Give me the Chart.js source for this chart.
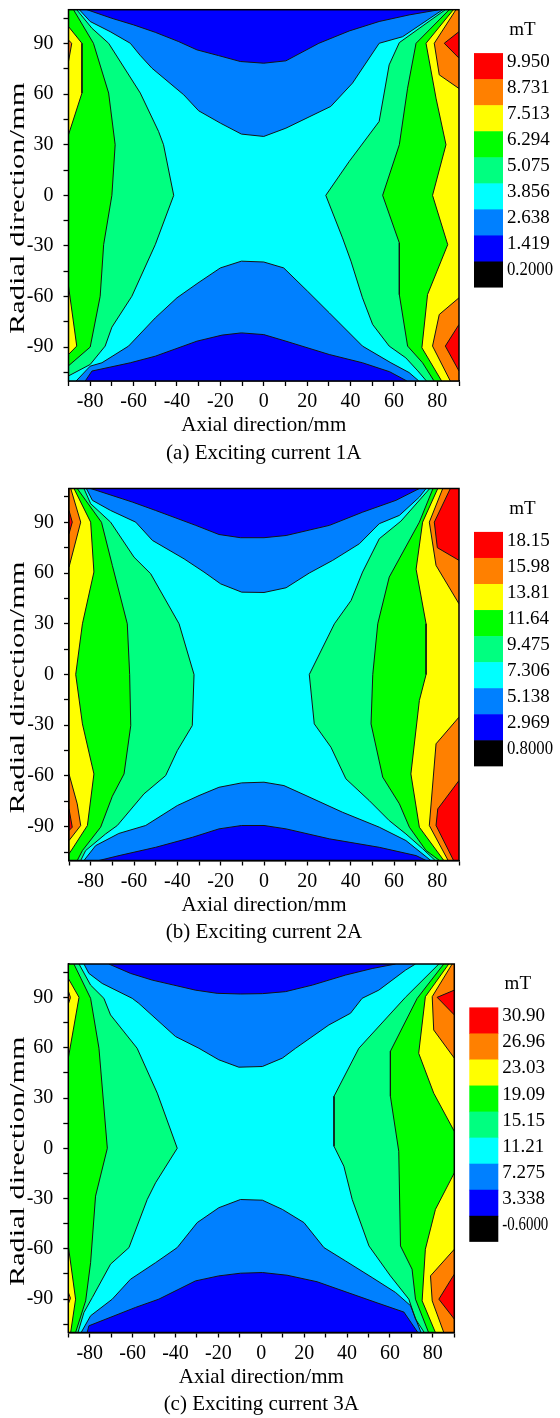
<!DOCTYPE html>
<html>
<head>
<meta charset="utf-8">
<script src="https://cdn.jsdelivr.net/npm/chart.js@4.4.0/dist/chart.umd.min.js"></script>
<style>
html,body{margin:0;padding:0;background:#fff;}
#wrap{position:relative;width:560px;height:1418px;overflow:hidden;}
canvas{position:absolute;left:0;}
</style>
</head>
<body>
<div id="wrap">
<canvas id="pa" width="560" height="476" style="top:0px"></canvas>
<canvas id="pb" width="560" height="476" style="top:476px"></canvas>
<canvas id="pc" width="560" height="466" style="top:952px"></canvas>
</div>
<script>
// ---------------- axis ticks / labels ----------------
const xRange = [-90, 90];
const yRange = [-110, 110];
const xTicks = [-90,-80,-70,-60,-50,-40,-30,-20,-10,0,10,20,30,40,50,60,70,80,90];
const xTickLabels = [-80,-60,-40,-20,0,20,40,60,80];
const yTicks = [-105,-90,-75,-60,-45,-30,-15,0,15,30,45,60,75,90,105];
const yTickLabels = [-90,-60,-30,0,30,60,90];
const xTitle = 'Axial direction/mm';
const yTitle = 'Radial direction/mm';
const unitLabel = 'mT';

// ---------------- colour-bar levels ----------------
const levelsA = ['9.950','8.731','7.513','6.294','5.075','3.856','2.638','1.419','0.2000'];
const levelsB = ['18.15','15.98','13.81','11.64','9.475','7.306','5.138','2.969','0.8000'];
const levelsC = ['30.90','26.96','23.03','19.09','15.15','11.21','7.275','3.338','-0.6000'];

// ---------------- contour lines, panel (a) [x mm, y mm] ----------------
const aTopLightblue = [[-85,110],[-80,103],[-70.8,97],[-61.5,90.1],[-57,83],[-51.5,75.3],[-36.9,59.6],[-30,50.1],[-20,42.8],[-10.3,36.3],[0,34.9],[10.2,39.8],[30.9,52.7],[40.9,66.5],[53.2,90.1],[64,94],[82.5,110]];
const aTopBlue = [[-81.5,110],[-70,104.9],[-60,101],[-50,96.6],[-39.2,91.1],[-30.8,86.2],[-20.8,82.8],[-10.8,79.3],[0,78.3],[10.2,79.7],[25.4,90.1],[39.4,97.4],[53.2,103],[67,106.9],[80.9,110]];
const aBotLightblue = [[-86.5,-110],[-80,-101.2],[-74.6,-99.2],[-62.3,-89.3],[-50,-72.6],[-40,-60.7],[-30.3,-51.9],[-20,-43],[-10.3,-39],[0,-39.5],[9.2,-43],[20.2,-56.8],[30.2,-69.6],[45.5,-89.3],[58.6,-99.2],[67,-105],[71.5,-110]];
const aBotBlue = [[-82.3,-110],[-79.2,-104.1],[-61.5,-99.2],[-50,-95.3],[-30.8,-86.4],[-19.2,-82.8],[-10.3,-81.5],[0,-82.5],[10.2,-86.4],[30.2,-94.3],[45.5,-99.2],[58,-104.5],[66,-110]];
const aLeftLgreen = [[-86.2,110],[-79.2,99],[-71.5,90.1],[-56.9,60.6],[-48.5,37.9],[-46.2,30],[-41.5,0],[-50,-29.2],[-60.8,-59.8],[-70,-78.1],[-73.1,-89.3],[-80,-100.2],[-90,-107]];
const aLeftGreen = [[-87.7,110],[-78.5,90.1],[-71.5,60.6],[-68.5,30],[-70,0],[-73.8,-29.2],[-75.4,-59.8],[-80,-89.9],[-90,-101]];
const aLeftYellow1 = [[-90,100],[-83.8,90.1],[-83.8,60.6],[-90,35.9]];
const aLeftYellow2 = [[-90,-53.8],[-86.2,-89.3],[-90,-94.3]];
const aLeftOrange = [[-90,92],[-88.5,90.1],[-90,79.3]];
const aRightLgreen = [[83.7,110],[62.5,90.5],[57.8,77.3],[53.2,43.8],[39.4,20.1],[28.6,0],[36.3,-25.2],[40.2,-39],[45.5,-60.7],[50.2,-76.5],[57.8,-89.3],[65.5,-96.3],[71,-104],[75,-110]];
const aRightGreen = [[85.5,110],[70.2,90.1],[66.3,63.5],[62.5,30],[54.8,0],[62.5,-28.2],[62.5,-58.8],[66.3,-89.3],[73.2,-99.2],[78.5,-110]];
const aRightYellow = [[87.4,110],[74.8,90.1],[79.4,57.6],[84,30],[77.8,0],[84.8,-29.2],[75.5,-58.8],[72.9,-90.3],[82,-110]];
const aRightOrange1 = [[88.6,110],[78.6,90.1],[80.9,71.4],[90,63.3]];
const aRightOrange2 = [[90,-60.7],[80.9,-70.6],[77.8,-89.3],[86,-110]];
const aRightRed1 = [[90,97],[83.2,90.1],[90,81.3]];
const aRightRed2 = [[90,-76.5],[83.7,-89.3],[90,-104.1]];

// ---------------- contour lines, panel (b) ----------------
const bTopLightblue = [[-82,110],[-79.2,103],[-70.8,97],[-59.2,90.1],[-51.5,79.3],[-36.9,68.4],[-27.7,60.6],[-20,53.6],[-10.3,48.7],[0,48.5],[10.2,51.3],[20.9,60],[31.7,67.5],[44,77.3],[53.2,89.2],[62.5,94.1],[71.7,104.9],[74.8,110]];
const bTopBlue = [[-80,110],[-60.8,102],[-50,97],[-31.5,88.2],[-20.8,82.8],[-10.8,80.9],[0,80.9],[10.2,82.2],[30.2,88.2],[45.5,96],[60.9,103],[71.7,110]];
const bBotLightblue = [[-83.1,-110],[-77.7,-101.2],[-67,-94],[-54.6,-89.3],[-40,-77.5],[-30,-71.6],[-20.8,-66.7],[-10.3,-64.1],[0,-63.7],[9.2,-65.7],[19.4,-71.6],[36.3,-81.5],[53.2,-90.3],[65.5,-98.2],[77,-110]];
const bBotBlue = [[-76.2,-110],[-66.9,-107.1],[-50,-102.2],[-33.1,-96.3],[-20.8,-91.3],[-10.3,-89.3],[0,-89.3],[10.2,-91.3],[30.2,-97.2],[53.2,-102.2],[70.2,-107.1],[74.8,-110]];
const bLeftLgreen = [[-83.1,110],[-80,101],[-70.8,90.1],[-60,69.4],[-52.3,59.6],[-39.2,30],[-32.3,0],[-33.1,-30.2],[-40,-45],[-45.4,-59.8],[-55.4,-70.6],[-67.7,-89.3],[-73.1,-94.3],[-82.3,-104.1],[-84.6,-110]];
const bLeftGreen = [[-86.2,110],[-75,90],[-70,64.5],[-63.1,30],[-62,0],[-61.5,-30.2],[-64.6,-58.8],[-70,-72],[-75.4,-90.3],[-83.8,-104.1],[-86.2,-110]];
const bLeftYellow = [[-87.7,110],[-80,90.1],[-78.5,60.6],[-83.8,30],[-86.9,0],[-83.8,-29.2],[-78.5,-58.8],[-81.5,-89.3],[-88.5,-103.2],[-90,-106]];
const bLeftOrange1 = [[-89.2,110],[-84.6,90.1],[-90,63.5]];
const bLeftOrange2 = [[-90,-58.8],[-86.2,-76.5],[-84.6,-89.3],[-90,-98.2]];
const bLeftRed1 = [[-90,97],[-88.5,90.1],[-90,83.2]];
const bLeftRed2 = [[-90,-79.5],[-88.5,-90.3],[-90,-92.3]];
const bRightLgreen = [[76.5,110],[63.2,90.7],[53.2,80.3],[45.5,60.6],[40.2,43.8],[32.5,30],[20.9,0],[23.2,-29.2],[30.9,-43],[37.8,-61.7],[48.6,-74.6],[57.8,-86.4],[65.5,-94.3],[73.2,-103],[79,-110]];
const bRightGreen = [[78,110],[71.7,90.1],[57.8,57.6],[52.5,30],[50.2,0],[49.4,-29.2],[54.8,-60.7],[62.5,-76.5],[67.1,-90.3],[74.8,-104.1],[81,-110]];
const bRightYellow = [[80.2,110],[73.2,90.1],[70.2,62.3],[74.8,30],[74.8,0],[71.7,-15.4],[67.8,-58.8],[71.7,-90.3],[83,-110]];
const bRightOrange1 = [[82.5,110],[76.3,90.1],[79.4,64.5],[90,41.8]];
const bRightOrange2 = [[90,-25.2],[79.4,-41],[76.3,-89.3],[85,-110]];
const bRightRed1 = [[86,110],[78.6,90.1],[80,75],[90,67.5]];
const bRightRed2 = [[90,-62.7],[80.2,-79.5],[79.4,-89.3],[87.5,-110]];

// ---------------- contour lines, panel (c) ----------------
const cTopLightblue = [[-82.7,110],[-80.4,104.4],[-74.2,98.4],[-60.2,89.5],[-57.1,86.5],[-40,66.7],[-29.1,59.7],[-19.8,52.8],[-10.5,48.4],[0.5,48.8],[9.8,53.8],[16,59.7],[31.5,73.6],[41.6,80.6],[47,89.5],[54.8,94.4],[67.2,106.3],[71.9,110]];
const cTopBlue = [[-71.1,110],[-61,104.4],[-50.9,100.4],[-40.8,97.4],[-30.7,94.4],[-20.6,92.5],[-9.7,92.1],[0.5,92.3],[11.3,93.5],[23.8,97.4],[39.3,103.4],[51.7,107.3],[62.6,110]];
const cBotLightblue = [[-84,-110],[-79.6,-100],[-69.5,-90.1],[-61,-78.2],[-49.3,-68.3],[-39.2,-59.3],[-29.9,-44.4],[-19.8,-35.5],[-9.7,-30.6],[0.5,-31],[9.8,-36.5],[19.9,-44.4],[29.2,-59.3],[39.3,-67.3],[51.7,-77.2],[62.6,-86.1],[69.6,-94],[74.5,-110]];
const cBotBlue = [[-81.2,-110],[-80.4,-106],[-58.6,-95],[-47.8,-90.1],[-30.7,-79.2],[-19.8,-76.2],[-9.7,-74.6],[0.5,-74.2],[12,-75.8],[26,-79.7],[40,-86],[54,-92.3],[66.5,-97.8],[73,-110]];
const cLeftLgreen = [[-85,110],[-79.6,97.4],[-73.4,89.5],[-70.3,79.6],[-57.9,59.7],[-48.5,32.9],[-39.2,0],[-49.3,-20.6],[-53.2,-30.6],[-61.7,-59.3],[-70.3,-69.2],[-78.8,-89.1],[-82.7,-98],[-85.5,-110]];
const cLeftGreen = [[-87.4,110],[-79.6,89.5],[-75.7,59.7],[-71.8,0],[-77.3,-28.6],[-79.6,-68.3],[-81.9,-91.1],[-86.6,-110]];
const cLeftYellow1 = [[-90,101.4],[-85,90.1],[-90,53.8]];
const cLeftYellow2 = [[-90,-58.3],[-86.6,-90.1],[-88.9,-110]];
const cLeftOrange1 = [[-90,94],[-89,90],[-90,86]];
const cLeftOrange2 = [[-90,-86],[-89,-89.5],[-90,-93]];
const cRightLgreen = [[82.8,110],[67.2,90.1],[45.5,59.7],[33.9,31],[33.9,1.2],[38.5,-10.7],[42.4,-30.6],[50.2,-58.3],[60.2,-76.2],[68.8,-90.1],[71.9,-102],[76,-110]];
const cRightGreen = [[85.1,110],[72.7,89.5],[60.2,57.9],[60.2,31],[64.1,-1.8],[64.9,-58.3],[70.3,-72.2],[71.9,-90.1],[78,-110]];
const cRightYellow1 = [[87.4,110],[76.5,90.5],[73.4,56.7],[80.4,32.9],[90,10.1]];
const cRightYellow2 = [[90,-14.7],[81.2,-36.5],[76.5,-60.3],[75,-91.1],[81.2,-110]];
const cRightOrange1 = [[89,110],[79.7,90.5],[80.4,70.6],[90,53.8]];
const cRightOrange2 = [[90,-60.3],[78.9,-76.2],[79.7,-91.1],[85.1,-110]];
const cRightRed1 = [[90,94.4],[82,90.1],[90,79.6]];
const cRightRed2 = [[90,-75.2],[82.8,-90.1],[90,-102]];

// ---------------- styles ----------------
const FONT = "'Liberation Serif','Times New Roman',Times,serif";
const C = {red:'#FF0000', orange:'#FF8000', yellow:'#FFFF00', green:'#00FF00', lgreen:'#00FF80',
           cyan:'#00FFFF', lblue:'#0080FF', blue:'#0000FF', black:'#000000'};
const legendColors = [C.red, C.orange, C.yellow, C.green, C.lgreen, C.cyan, C.lblue, C.blue, C.black];
const LINE_COLOR = '#141414';

const panels = [
  {id:'pa', box:{L:68.5, R:459, T:9.7, B:381, H:476}, caption:'(a) Exciting current 1A', levels:levelsA,
   regions:[[aTopLightblue,'top',C.lblue],[aTopBlue,'top',C.blue],[aBotLightblue,'bottom',C.lblue],[aBotBlue,'bottom',C.blue],
            [aLeftLgreen,'left',C.lgreen],[aLeftGreen,'left',C.green],[aLeftYellow1,'left',C.yellow],[aLeftYellow2,'left',C.yellow],[aLeftOrange,'left',C.orange],
            [aRightLgreen,'right',C.lgreen],[aRightGreen,'right',C.green],[aRightYellow,'right',C.yellow],[aRightOrange1,'right',C.orange],[aRightOrange2,'right',C.orange],[aRightRed1,'right',C.red],[aRightRed2,'right',C.red]]},
  {id:'pb', box:{L:69, R:459, T:12.5, B:384.5, H:476}, caption:'(b) Exciting current 2A', levels:levelsB,
   regions:[[bTopLightblue,'top',C.lblue],[bTopBlue,'top',C.blue],[bBotLightblue,'bottom',C.lblue],[bBotBlue,'bottom',C.blue],
            [bLeftLgreen,'left',C.lgreen],[bLeftGreen,'left',C.green],[bLeftYellow,'left',C.yellow],[bLeftOrange1,'left',C.orange],[bLeftOrange2,'left',C.orange],[bLeftRed1,'left',C.red],[bLeftRed2,'left',C.red],
            [bRightLgreen,'right',C.lgreen],[bRightGreen,'right',C.green],[bRightYellow,'right',C.yellow],[bRightOrange1,'right',C.orange],[bRightOrange2,'right',C.orange],[bRightRed1,'right',C.red],[bRightRed2,'right',C.red]]},
  {id:'pc', box:{L:68.3, R:454.3, T:12, B:380.5, H:466}, caption:'(c) Exciting current 3A', levels:levelsC,
   regions:[[cTopLightblue,'top',C.lblue],[cTopBlue,'top',C.blue],[cBotLightblue,'bottom',C.lblue],[cBotBlue,'bottom',C.blue],
            [cLeftLgreen,'left',C.lgreen],[cLeftGreen,'left',C.green],[cLeftYellow1,'left',C.yellow],[cLeftYellow2,'left',C.yellow],[cLeftOrange1,'left',C.orange],[cLeftOrange2,'left',C.orange],
            [cRightLgreen,'right',C.lgreen],[cRightGreen,'right',C.green],[cRightYellow1,'right',C.yellow],[cRightYellow2,'right',C.yellow],[cRightOrange1,'right',C.orange],[cRightOrange2,'right',C.orange],[cRightRed1,'right',C.red],[cRightRed2,'right',C.red]]}
];

// ---------------- builders ----------------
const FAR = 400;
const toXY = pts => pts.map(p => ({x:p[0], y:p[1]}));

function regionDataset(pts, side, color) {
  const f = pts[0], l = pts[pts.length - 1];
  const poly = pts.slice();
  if (side === 'top') poly.push([l[0], FAR], [f[0], FAR]);
  if (side === 'bottom') poly.push([l[0], -FAR], [f[0], -FAR]);
  if (side === 'left') poly.push([-FAR, l[1]], [-FAR, f[1]]);
  if (side === 'right') poly.push([FAR, l[1]], [FAR, f[1]]);
  poly.push(f);
  return {data: toXY(poly), showLine: true, fill: 'shape', backgroundColor: color,
          borderColor: color, borderWidth: 0, pointRadius: 0, tension: 0};
}
function lineDataset(pts) {
  return {data: toXY(pts), showLine: true, fill: false, borderColor: LINE_COLOR,
          backgroundColor: LINE_COLOR, borderWidth: 1, pointRadius: 0, tension: 0};
}
function baseDataset() {
  const m = 5;
  const x0 = xRange[0] - m, x1 = xRange[1] + m, y0 = yRange[0] - m, y1 = yRange[1] + m;
  return {data: toXY([[x0,y0],[x1,y0],[x1,y1],[x0,y1],[x0,y0]]), showLine: true, fill: 'shape',
          backgroundColor: C.cyan, borderWidth: 0, pointRadius: 0};
}
function buildDatasets(regions) {
  const ds = [baseDataset()];
  regions.forEach(r => ds.push(regionDataset(r[0], r[1], r[2])));
  regions.forEach(r => ds.push(lineDataset(r[0])));
  const n = ds.length;
  ds.forEach((d, i) => { d.order = n - i; });
  return ds;
}

function makeTextPlugin(P) {
  return {
    id: 'panelText',
    afterDatasetsDraw(chart) {
      const {ctx, chartArea: a} = chart;
      ctx.save();
      ctx.strokeStyle = '#000';
      ctx.lineWidth = 1.5;
      ctx.strokeRect(a.left, a.top, a.right - a.left, a.bottom - a.top);
      ctx.restore();
    },
    afterDraw(chart) {
      const {ctx, chartArea: a} = chart;
      ctx.save();
      ctx.fillStyle = '#000';
      ctx.font = '21px ' + FONT;
      // y-axis title (stretched as in the original)
      const w = ctx.measureText(yTitle).width;
      const k = 0.677 * (a.bottom - a.top) / w;
      ctx.save();
      ctx.translate(23.5, (a.top + a.bottom) / 2 + 13);
      ctx.rotate(-Math.PI / 2);
      ctx.scale(k, 1);
      ctx.textAlign = 'center';
      ctx.textBaseline = 'alphabetic';
      ctx.fillText(yTitle, 0, 0);
      ctx.restore();
      // x title and caption
      const cx = (a.left + a.right) / 2;
      ctx.textAlign = 'center';
      ctx.textBaseline = 'alphabetic';
      ctx.fillText(xTitle, cx, a.bottom + 50);
      ctx.fillText(P.caption, cx, a.bottom + 77.5);
      // colour bar
      ctx.font = '19px ' + FONT;
      ctx.textBaseline = 'middle';
      ctx.fillText(unitLabel, a.right + 63.5, a.top + 20.5);
      const bx = a.right + 15, bw = 29, by = a.top + 43.4, bh = 26.05;
      legendColors.forEach((c, i) => {
        ctx.fillStyle = c;
        ctx.fillRect(bx, by + i * bh, bw, bh + (i < legendColors.length - 1 ? 0.6 : 0));
      });
      ctx.fillStyle = '#000';
      ctx.textAlign = 'left';
      P.levels.forEach((t, i) => ctx.fillText(t, bx + bw + 4, by + i * bh + 9, 46));
      ctx.restore();
    }
  };
}

function makeChart(P) {
  const {L, R, T, B, H} = P.box;
  const tickFont = {family: FONT, size: 20};
  new Chart(document.getElementById(P.id), {
    type: 'scatter',
    data: {datasets: buildDatasets(P.regions)},
    options: {
      responsive: false,
      animation: false,
      devicePixelRatio: 1,
      events: [],
      layout: {padding: {left: 0, right: 560 - R, top: T, bottom: 0}},
      plugins: {legend: {display: false}, tooltip: {enabled: false}},
      scales: {
        x: {
          type: 'linear', position: 'bottom', min: xRange[0], max: xRange[1],
          afterBuildTicks: s => { s.ticks = xTicks.map(v => ({value: v})); },
          afterFit: s => { s.height = H - B; s.paddingLeft = 0; s.paddingRight = 0; },
          ticks: {stepSize: 10, maxTicksLimit: 100, autoSkip: false, maxRotation: 0, minRotation: 0,
                  padding: 4, color: '#000', font: tickFont,
                  callback: v => xTickLabels.includes(v) ? String(v) : ''},
          grid: {drawOnChartArea: false, drawTicks: true, tickLength: 5, tickWidth: 1.3, tickColor: '#000'},
          border: {display: true, color: '#000', width: 1.5}
        },
        y: {
          type: 'linear', position: 'left', min: yRange[0], max: yRange[1],
          afterBuildTicks: s => { s.ticks = yTicks.map(v => ({value: v})); },
          afterFit: s => { s.width = L; s.paddingTop = 0; s.paddingBottom = 0; },
          ticks: {stepSize: 15, maxTicksLimit: 100, autoSkip: false, padding: 10, color: '#000', font: tickFont,
                  callback: v => yTickLabels.includes(v) ? String(v) : ''},
          grid: {drawOnChartArea: false, drawTicks: true, tickLength: 5, tickWidth: 1.3, tickColor: '#000'},
          border: {display: true, color: '#000', width: 1.5}
        }
      }
    },
    plugins: [makeTextPlugin(P)]
  });
}

panels.forEach(makeChart);
</script>
</body>
</html>
